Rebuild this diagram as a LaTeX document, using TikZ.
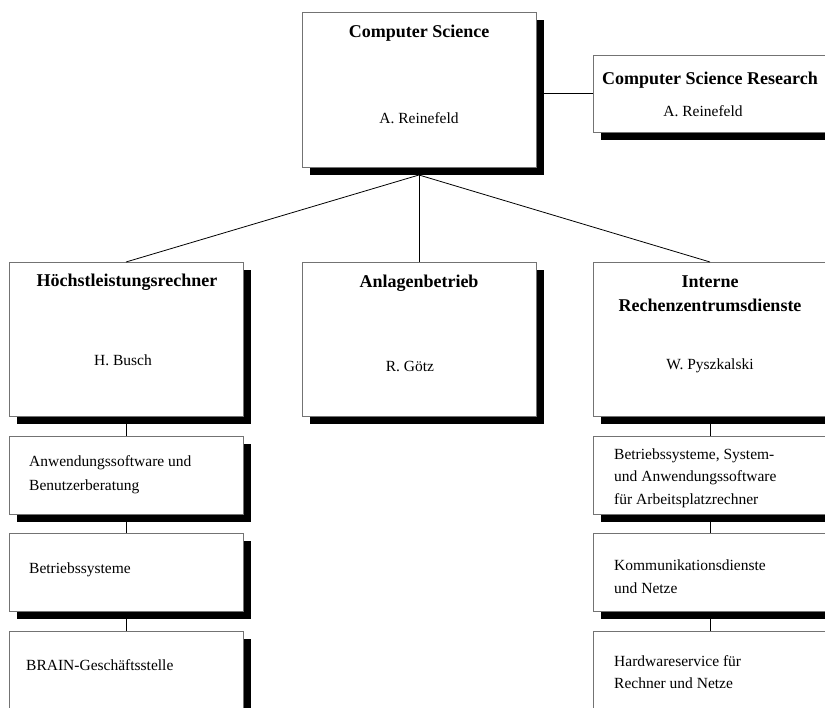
\documentclass[tikz,border=0pt]{standalone}
\usepackage{fontspec}
\setmainfont{Liberation Serif}
\usetikzlibrary{shadows}
\begin{document}
\begin{tikzpicture}[x=1pt,y=-1pt,
  box/.style={draw=black!55, line width=0.8pt, fill=white, inner sep=0pt, outer sep=0pt,
    anchor=north west, minimum width=234pt,
    drop shadow={shadow xshift=8pt, shadow yshift=-8pt, fill=black, opacity=1}},
  ttl/.style={font=\fontsize{18}{22}\selectfont\bfseries, inner sep=0pt, anchor=base},
  nm/.style={font=\fontsize{15.5}{18}\selectfont, inner sep=0pt, anchor=base},
  txt/.style={font=\fontsize{15.5}{18}\selectfont, inner sep=0pt, anchor=base west},
  link/.style={draw=black, line width=0.8pt}]
\path[use as bounding box] (0,0) rectangle (825,708);
\fill[white] (0,0) rectangle (825,708);
\clip (0,0) rectangle (825,708);

% boxes
\node[box, minimum height=155pt] (cs) at (302,12) {};
\node[box, minimum height=77pt] (csr) at (593,55) {};
\node[box, minimum height=154pt] (hl) at (9,262) {};
\node[box, minimum height=154pt] (ab) at (302,262) {};
\node[box, minimum height=154pt] (ir) at (593,262) {};
\node[box, minimum height=78pt] (l1) at (9,436) {};
\node[box, minimum height=78pt] (l2) at (9,533) {};
\node[box, minimum height=78pt] (l3) at (9,631) {};
\node[box, minimum height=78pt] (r1) at (593,436) {};
\node[box, minimum height=78pt] (r2) at (593,533) {};
\node[box, minimum height=78pt] (r3) at (593,631) {};

% connectors
\coordinate (csb) at ([yshift=-8pt]cs.south);
\coordinate (cse) at ([xshift=8pt]cs.east);
\draw[link] (csr.west) -- (csr.west -| cse);
\draw[link] (csb) -- (hl.north);
\draw[link] (csb) -- (ab.north);
\draw[link] (csb) -- (ir.north);
\coordinate (hlb) at ([yshift=-8pt]hl.south);
\coordinate (l1b) at ([yshift=-8pt]l1.south);
\coordinate (l2b) at ([yshift=-8pt]l2.south);
\coordinate (irb) at ([yshift=-8pt]ir.south);
\coordinate (r1b) at ([yshift=-8pt]r1.south);
\coordinate (r2b) at ([yshift=-8pt]r2.south);
\draw[link] (hlb) -- (l1.north);
\draw[link] (l1b) -- (l2.north);
\draw[link] (l2b) -- (l3.north);
\draw[link] (irb) -- (r1.north);
\draw[link] (r1b) -- (r2.north);
\draw[link] (r2b) -- (r3.north);

% texts
\node[ttl] (tcs) at (419,38) {Computer Science};
\node[nm] (ncs) at (419,124) {A. Reinefeld};
\node[ttl] (tcsr) at (710,85) {Computer Science Research};
\node[nm] (ncsr) at (703,117) {A. Reinefeld};
\node[ttl] (thl) at (127,287) {Höchstleistungsrechner};
\node[nm] (nhl) at (123,366) {H. Busch};
\node[ttl] (tab) at (419,288) {Anlagenbetrieb};
\node[nm] (nab) at (410,372) {R. Götz};
\node[ttl] (tira) at (710,288) {Interne};
\node[ttl] (tirb) at (710,312) {Rechenzentrumsdienste};
\node[nm] (nir) at (710,370) {W. Pyszkalski};

\node[txt] (l1a) at (29,467) {Anwendungssoftware und};
\node[txt] (l1c) at (29,490) {Benutzerberatung};
\node[txt] (l2a) at (29,573) {Betriebssysteme};
\node[txt] (l3a) at (26,670) {BRAIN-Geschäftsstelle};

\node[txt] (r1a) at (614,460) {Betriebssysteme, System-};
\node[txt] (r1c) at (614,482) {und Anwendungssoftware};
\node[txt] (r1d) at (614,504) {für Arbeitsplatzrechner};
\node[txt] (r2a) at (614,570) {Kommunikationsdienste};
\node[txt] (r2c) at (614,593) {und Netze};
\node[txt] (r3a) at (614,666) {Hardwareservice für};
\node[txt] (r3c) at (614,688) {Rechner und Netze};
\end{tikzpicture}
\end{document}
